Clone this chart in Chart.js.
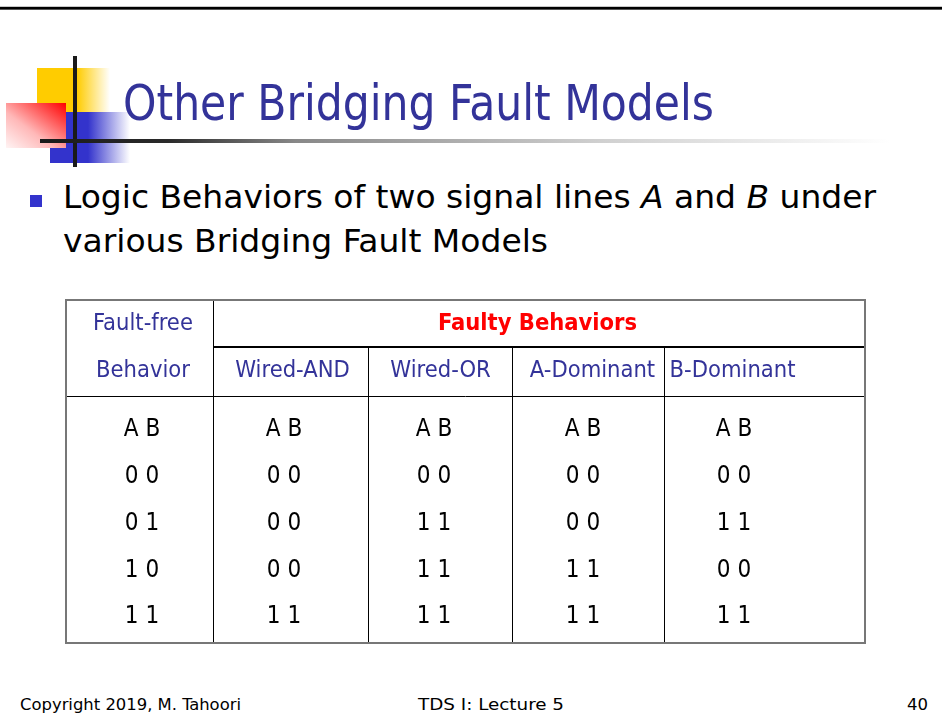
<!DOCTYPE html>
<html>
<head>
<meta charset="utf-8">
<title>Other Bridging Fault Models</title>
<script src="https://cdn.jsdelivr.net/npm/chart.js@4.4.1/dist/chart.umd.min.js"></script>
<style>
  html, body { margin: 0; padding: 0; background: #fff; }
  #slide { position: relative; width: 942px; height: 720px; overflow: hidden; background: #fff; }
  #topline { position: absolute; left: 0; top: 6px; width: 942px; height: 4px;
    background: linear-gradient(#c8c8c8 0 1px, #000 1px 3px, #555 3px 4px); }
  .deco { position: absolute; }
  #yellow { left: 37px; top: 68px; width: 73px; height: 44px;
    background: linear-gradient(to right, #ffcc00 0 40px, rgba(255,204,0,0) 73px); }
  #blue { left: 50px; top: 112px; width: 80px; height: 51px;
    background: linear-gradient(to right, #3333cc 0 38px, rgba(51,51,204,0) 80px); }
  #red { left: 6px; top: 103px; width: 60px; height: 45px;
    background: linear-gradient(to bottom left, #ff0000, #ffb8b8 60%, #fff4f4); }
  #vline { left: 73px; top: 56px; width: 4px; height: 111px; background: #1a1a1a; }
  #hline { left: 40px; top: 139px; width: 850px; height: 4px;
    background: linear-gradient(to right, #1a1a1a 0%, #2a2a2a 15%, #888 30%, #d0d0d0 66%, #fff 100%); }
  #chrome { position: absolute; left: 0; top: 0; }
  #tableBox { position: absolute; left: 62px; top: 296px; width: 807px; height: 351px; }
</style>
</head>
<body>
<div id="slide">
  <div id="topline"></div>
  <div class="deco" id="yellow"></div>
  <div class="deco" id="blue"></div>
  <div class="deco" id="red"></div>
  <div class="deco" id="vline"></div>
  <div class="deco" id="hline"></div>

  <svg id="chrome" width="942" height="720" font-family="'DejaVu Sans Condensed', 'DejaVu Sans', sans-serif">
    <text x="123" y="120" font-size="50" fill="#333399" textLength="591" lengthAdjust="spacingAndGlyphs">Other Bridging Fault Models</text>
    <rect x="30" y="195" width="12" height="12" fill="#3333cc"></rect>
    <text x="63" y="208" font-size="32" fill="#000" textLength="813" lengthAdjust="spacingAndGlyphs">Logic Behaviors of two signal lines <tspan font-style="italic">A</tspan> and <tspan font-style="italic">B</tspan> under</text>
    <text x="63" y="252" font-size="32" fill="#000" textLength="485" lengthAdjust="spacingAndGlyphs">various Bridging Fault Models</text>
    <text x="20" y="710" font-size="16" fill="#000" textLength="221" lengthAdjust="spacingAndGlyphs">Copyright 2019, M. Tahoori</text>
    <text x="418" y="710" font-size="16" fill="#000" textLength="146" lengthAdjust="spacingAndGlyphs">TDS I: Lecture 5</text>
    <text x="907" y="710" font-size="16" fill="#000" textLength="21" lengthAdjust="spacingAndGlyphs">40</text>
  </svg>

  <div id="tableBox"><canvas id="tabla"></canvas></div>
</div>

<script>
// datos de la tabla
const faultyTitle = 'Faulty Behaviors';
const freeHeader = ['Fault-free', 'Behavior'];
const models = ['Wired-AND', 'Wired-OR', 'A-Dominant', 'B-Dominant'];
const faultFree = ['A B', '0 0', '0 1', '1 0', '1 1'];
const wiredAnd = ['A B', '0 0', '0 0', '0 0', '1 1'];
const wiredOr = ['A B', '0 0', '1 1', '1 1', '1 1'];
const aDominant = ['A B', '0 0', '0 0', '1 1', '1 1'];
const bDominant = ['A B', '0 0', '1 1', '0 0', '1 1'];

// disposicion (unidades de la escala, 0..799 x 0..343)
const colEdges = [0, 147, 302, 446, 598, 799];
const headCenters = [77, 226.5, 374.5, 526.5, 666.5];
const bodyCenters = [76, 218, 368, 517, 668];
const headBase = [30, 77];
const bodyBase = [136, 183, 230, 277, 323];
const faultyCenter = 471.5;
const rowLine1 = 46.5;
const rowLine2 = 96;
const tableBottom = 343;

const FONT = "'DejaVu Sans Condensed', 'DejaVu Sans', sans-serif";
const columnas = [faultFree, wiredAnd, wiredOr, aDominant, bDominant];

const datasets = columnas.map((col, c) => ({
    label: c === 0 ? 'Fault-free' : models[c - 1],
    textos: col,
    data: col.map((_, r) => ({ x: bodyCenters[c], y: bodyBase[r] })),
    pointRadius: 0,
    pointHoverRadius: 0
}));

const tablaPlugin = {
    id: 'tablaVerdad',
    afterDraw(chart) {
        const ctx = chart.ctx;
        const x = chart.scales.x;
        const y = chart.scales.y;
        const px = v => Math.round(x.getPixelForValue(v));
        const py = v => Math.round(y.getPixelForValue(v));

        ctx.save();
        // lineas internas
        ctx.strokeStyle = '#000';
        ctx.lineWidth = 1;
        ctx.beginPath();
        ctx.moveTo(px(colEdges[1]) + 0.5, py(0));
        ctx.lineTo(px(colEdges[1]) + 0.5, py(tableBottom));
        for (let i = 2; i < colEdges.length - 1; i++) {
            ctx.moveTo(px(colEdges[i]) + 0.5, py(rowLine1));
            ctx.lineTo(px(colEdges[i]) + 0.5, py(tableBottom));
        }
        ctx.moveTo(px(0), py(rowLine2) + 0.5);
        ctx.lineTo(px(colEdges[colEdges.length - 1]), py(rowLine2) + 0.5);
        ctx.stroke();

        ctx.lineWidth = 2;
        ctx.beginPath();
        ctx.moveTo(px(colEdges[1]), py(rowLine1));
        ctx.lineTo(px(colEdges[colEdges.length - 1]), py(rowLine1));
        ctx.stroke();

        // borde exterior
        ctx.strokeStyle = '#777';
        ctx.lineWidth = 2;
        ctx.strokeRect(px(0), py(0), px(colEdges[colEdges.length - 1]) - px(0), py(tableBottom) - py(0));

        // cabeceras
        ctx.textAlign = 'center';
        ctx.textBaseline = 'alphabetic';
        ctx.font = '23.5px ' + FONT;
        ctx.fillStyle = '#333399';
        ctx.fillText(freeHeader[0], x.getPixelForValue(headCenters[0]), y.getPixelForValue(headBase[0]));
        ctx.fillText(freeHeader[1], x.getPixelForValue(headCenters[0]), y.getPixelForValue(headBase[1]));
        models.forEach((m, i) => {
            ctx.fillText(m, x.getPixelForValue(headCenters[i + 1]), y.getPixelForValue(headBase[1]));
        });
        ctx.font = 'bold 23.5px ' + FONT;
        ctx.fillStyle = '#ff0000';
        ctx.fillText(faultyTitle, x.getPixelForValue(faultyCenter), y.getPixelForValue(headBase[0]));

        // celdas
        ctx.font = '24px ' + FONT;
        ctx.fillStyle = '#000';
        chart.data.datasets.forEach((ds, i) => {
            const meta = chart.getDatasetMeta(i);
            meta.data.forEach((pt, r) => {
                ctx.fillText(ds.textos[r], pt.x, pt.y);
            });
        });
        ctx.restore();
    }
};

new Chart(document.getElementById('tabla'), {
    type: 'scatter',
    data: { datasets: datasets },
    options: {
        responsive: true,
        maintainAspectRatio: false,
        animation: false,
        layout: { padding: 4 },
        plugins: { legend: { display: false }, tooltip: { enabled: false } },
        scales: {
            x: { type: 'linear', min: 0, max: 799, display: false },
            y: { type: 'linear', min: 0, max: 343, reverse: true, display: false }
        }
    },
    plugins: [tablaPlugin]
});
</script>
</body>
</html>
